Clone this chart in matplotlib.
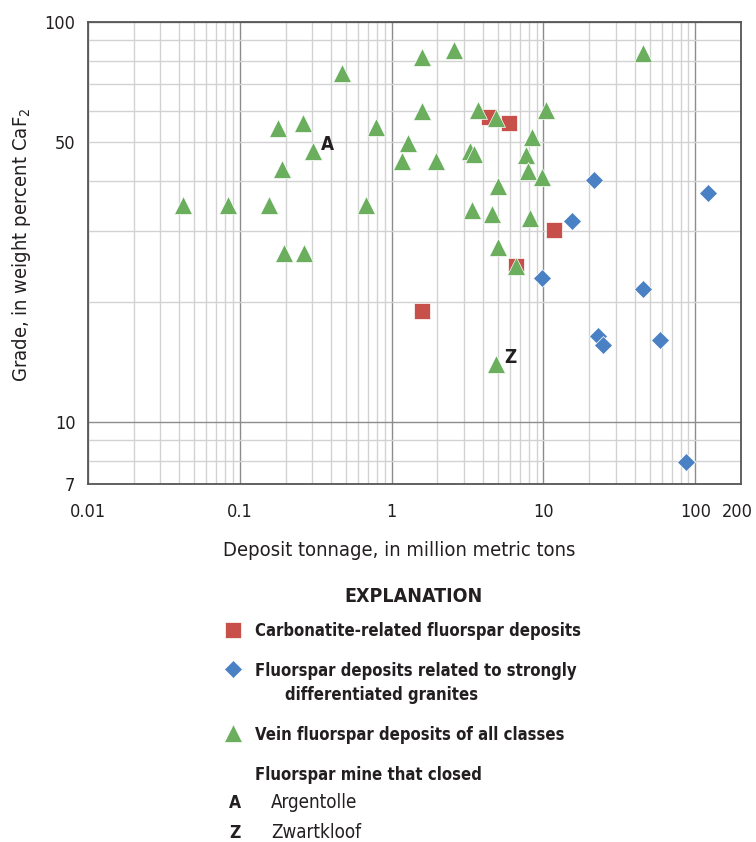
import matplotlib
matplotlib.use("Agg")
import matplotlib.pyplot as plt
from matplotlib.lines import Line2D
from matplotlib.ticker import LogLocator, FuncFormatter

plt.rcParams['font.family'] = ['Liberation Sans Narrow', 'DejaVu Sans Condensed', 'DejaVu Sans']
plt.rcParams['font.stretch'] = 'condensed'
plt.rcParams['mathtext.fontset'] = 'custom'
plt.rcParams['mathtext.rm'] = 'DejaVu Sans:stretch=condensed'

TXT = '#231f20'

# Carbonatite-related fluorspar deposits
carb_x = [4.35, 5.89, 11.8, 6.61, 1.58]
carb_y = [58.0, 56.0, 30.2, 24.6, 19.0]

# Fluorspar deposits related to strongly differentiated granites
gran_x = [21.6, 15.5, 122, 9.77, 45.0, 22.9, 24.5, 58.8, 87.3]
gran_y = [40.2, 31.8, 37.4, 22.9, 21.5, 16.4, 15.6, 16.0, 7.93]

# Vein fluorspar deposits of all classes
vein_x = [0.0423, 0.0837, 0.156, 0.178, 0.262, 0.305, 0.189, 0.474, 0.787,
          0.676, 0.195, 0.264, 1.58, 2.58, 45.2, 1.58, 1.28, 1.167, 1.955,
          3.29, 3.51, 3.70, 4.86, 10.4, 8.43, 7.7, 7.9, 9.82, 5.03, 3.38,
          4.59, 8.18, 5.03, 6.61, 4.88]
vein_y = [34.9, 34.9, 34.9, 54.3, 56.0, 47.7, 42.9, 74.7, 54.7,
          34.9, 26.4, 26.4, 81.9, 85.1, 83.8, 60.0, 49.9, 44.9, 44.9,
          47.7, 46.8, 60.3, 57.4, 60.3, 51.7, 46.5, 42.4, 41.0, 38.8, 33.9,
          33.1, 32.3, 27.4, 24.5, 13.96]

# closed mines: (label, x, y)
closed = [("A", 0.305, 47.7), ("Z", 4.88, 13.96)]
mine_names = ['Argentolle', 'Zwartkloof']

x_labels = [0.01, 0.1, 1, 10, 100, 200]
y_labels = [7, 10, 50, 100]

RED = '#c8504b'
BLUE = '#4a80c4'
GREEN = '#6aae5e'

fig = plt.figure(figsize=(7.56, 8.42), dpi=100)
ax = fig.add_axes([88/756, 1-484/842, 653/756, 462/842])
ax.set_xscale('log')
ax.set_yscale('log')
ax.set_xlim(0.01, 200)
ax.set_ylim(7, 100)

ax.plot(carb_x, carb_y, 's', ms=11, color=RED, mec='white', mew=0.5, zorder=3)
ax.plot(gran_x, gran_y, 'D', ms=9.5, color=BLUE, mec='white', mew=0.5, zorder=3)
ax.plot(vein_x, vein_y, '^', ms=13, color=GREEN, mec='white', mew=0.5, zorder=4)

for lab, lx, ly in closed:
    ax.annotate(lab, (lx, ly), xytext=(10, 4.5), textcoords='offset points',
                fontsize=13.5, fontweight='bold', color=TXT, va='center', ha='center')

# grid: decades darker, the rest lighter
for axis in (ax.xaxis, ax.yaxis):
    axis.set_major_locator(LogLocator(base=10))
    axis.set_minor_locator(LogLocator(base=10, subs=range(2, 10)))
ax.grid(True, which='major', color='#8c8c8c', lw=1.0)
ax.grid(True, which='minor', color='#d2d2d2', lw=1.0)
ax.set_axisbelow(True)

# the last x label (200) sits on the right edge; it is drawn by hand below
edge_label = x_labels[-1]


def fmt(vals):
    def f(v, pos):
        for t in vals:
            if abs(v - t) < 1e-6 * t:
                return '%g' % t
        return ''
    return FuncFormatter(f)


ax.xaxis.set_major_formatter(fmt(x_labels[:-1]))
ax.xaxis.set_minor_formatter(fmt(x_labels[:-1]))
ax.yaxis.set_major_formatter(fmt(y_labels))
ax.yaxis.set_minor_formatter(fmt(y_labels))
ax.tick_params(which='both', length=0, labelsize=13, labelcolor=TXT)
ax.tick_params(axis='x', which='both', pad=14)
ax.tick_params(axis='y', which='both', pad=9)
ax.annotate('%g' % edge_label, xy=(edge_label, 0), xycoords=('data', 'axes fraction'),
            xytext=(-2.5, -14), textcoords='offset points', ha='center', va='top',
            fontsize=13, color=TXT, annotation_clip=False)

for s in ax.spines.values():
    s.set_color('#555555')
    s.set_linewidth(1.3)

fig.text(223/756, 1-551/842, 'Deposit tonnage, in million metric tons',
         fontsize=14.5, color=TXT, ha='left', va='center')
fig.text(22/756, 1-245/842, 'Grade, in weight percent CaF$_2$',
         fontsize=14.5, color=TXT, ha='center', va='center', rotation=90)

# explanation block
fig.text(413/756, 1-597/842, 'EXPLANATION', fontsize=14, fontweight='bold',
         color=TXT, ha='center', va='center')


def px(x, y):
    return x/756, 1-y/842


legend_rows = [
    ('s', 11, RED, 630, 'Carbonatite-related fluorspar deposits', 636),
    ('D', 9.5, BLUE, 669, 'Fluorspar deposits related to strongly', 676),
    ('^', 13, GREEN, 733, 'Vein fluorspar deposits of all classes', 739.5),
]
for mk, ms, col, my, lab, by in legend_rows:
    mx, myf = px(233, my)
    fig.add_artist(Line2D([mx], [myf], marker=mk, ms=ms, color=col, mec='white',
                          mew=0.5, ls='none', transform=fig.transFigure))
    fig.text(*px(255, by), lab, fontsize=12, fontweight='bold', color=TXT,
             ha='left', va='baseline')
fig.text(*px(285, 699.5), 'differentiated granites', fontsize=12,
         fontweight='bold', color=TXT, ha='left', va='baseline')
fig.text(*px(255, 779.5), 'Fluorspar mine that closed', fontsize=12,
         fontweight='bold', color=TXT, ha='left', va='baseline')

for i, (lab, _, _) in enumerate(closed):
    by = 808.5 + i*29
    fig.text(*px(229, by), lab, fontsize=12.5, fontweight='bold', color=TXT,
             ha='left', va='baseline')
    fig.text(*px(271, by), mine_names[i], fontsize=13.5, color=TXT,
             ha='left', va='baseline')

fig.savefig('out.png', dpi=100)
